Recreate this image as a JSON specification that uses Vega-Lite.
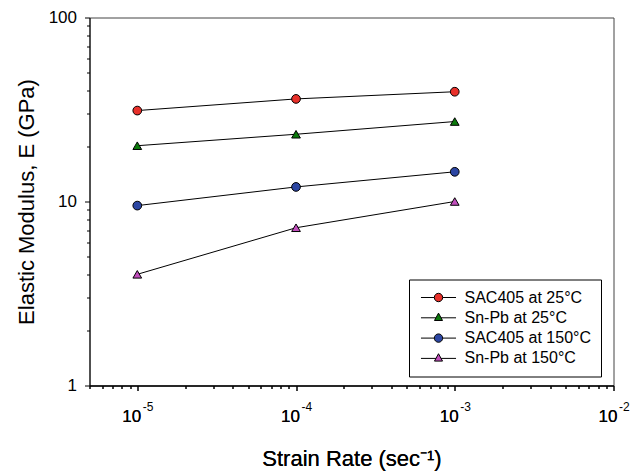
{
  "$schema": "https://vega.github.io/schema/vega-lite/v6.json",
  "width": 524,
  "height": 368,
  "autosize": "none",
  "padding": {"left": 89.5, "top": 17.5, "right": 20.5, "bottom": 85.5},
  "background": "white",
  "config": {
    "font": "Liberation Sans",
    "view": {"stroke": "#444", "strokeWidth": 1}
  },
  "data": {
    "values": [
      {"series": "SAC405 at 25°C", "rate": 0.00001, "E": 31.2},
      {"series": "SAC405 at 25°C", "rate": 0.0001, "E": 36.1},
      {"series": "SAC405 at 25°C", "rate": 0.001, "E": 39.5},
      {"series": "Sn-Pb at 25°C", "rate": 0.00001, "E": 20.1},
      {"series": "Sn-Pb at 25°C", "rate": 0.0001, "E": 23.2},
      {"series": "Sn-Pb at 25°C", "rate": 0.001, "E": 27.2},
      {"series": "SAC405 at 150°C", "rate": 0.00001, "E": 9.5},
      {"series": "SAC405 at 150°C", "rate": 0.0001, "E": 12.0},
      {"series": "SAC405 at 150°C", "rate": 0.001, "E": 14.5},
      {"series": "Sn-Pb at 150°C", "rate": 0.00001, "E": 4.02},
      {"series": "Sn-Pb at 150°C", "rate": 0.0001, "E": 7.2},
      {"series": "Sn-Pb at 150°C", "rate": 0.001, "E": 10.0}
    ]
  },
  "encoding": {
    "x": {
      "field": "rate", "type": "quantitative",
      "scale": {"type": "log", "domain": [0.000005, 0.01], "nice": false},
      "axis": {
        "orient": "bottom",
        "title": "Strain Rate (sec⁻¹)",
        "titleFontSize": 22, "titleFontWeight": "normal", "titleColor": "black",
        "titlePadding": 24,
        "values": [0.000005, 0.000006, 0.000007, 0.000008, 0.000009,
                   0.00001, 0.00002, 0.00003, 0.00004, 0.00005, 0.00006, 0.00007, 0.00008, 0.00009,
                   0.0001, 0.0002, 0.0003, 0.0004, 0.0005, 0.0006, 0.0007, 0.0008, 0.0009,
                   0.001, 0.002, 0.003, 0.004, 0.005, 0.006, 0.007, 0.008, 0.009, 0.01],
        "labelExpr": "abs(log(datum.value)/LN10 - round(log(datum.value)/LN10)) < 0.001 ? '10' : ''",
        "labelFontSize": 17, "labelColor": "black", "labelPadding": 18, "labelOffset": -6,
        "labelFlush": false, "labelOverlap": false,
        "tickSize": {"condition": {"test": "abs(log(datum.value)/LN10 - round(log(datum.value)/LN10)) < 0.001", "value": 5}, "value": 3},
        "tickColor": "black", "domainColor": "black", "grid": false
      }
    },
    "y": {
      "field": "E", "type": "quantitative",
      "scale": {"type": "log", "domain": [1, 100], "nice": false},
      "axis": {
        "title": "Elastic Modulus, E (GPa)",
        "titleFontSize": 22, "titleFontWeight": "normal", "titleColor": "black",
        "titlePadding": 10,
        "values": [1, 2, 3, 4, 5, 6, 7, 8, 9, 10, 20, 30, 40, 50, 60, 70, 80, 90, 100],
        "labelExpr": "datum.value == 1 || datum.value == 10 || datum.value == 100 ? datum.label : ''",
        "labelFontSize": 17, "labelColor": "black", "labelPadding": 8,
        "labelFlush": false, "labelOverlap": false,
        "tickSize": {"condition": {"test": "datum.value == 1 || datum.value == 10 || datum.value == 100", "value": 5}, "value": 3},
        "tickColor": "black", "domainColor": "black", "grid": false
      }
    }
  },
  "layer": [
    {
      "mark": {"type": "line", "color": "black", "strokeWidth": 1},
      "encoding": {"detail": {"field": "series"}}
    },
    {
      "mark": {"type": "point", "filled": true, "size": 76, "stroke": "black", "strokeWidth": 1, "opacity": 1},
      "encoding": {
        "x": {
          "field": "rate", "type": "quantitative",
          "scale": {"type": "log", "domain": [0.000005, 0.01], "nice": false},
          "axis": {
            "orient": "bottom", "title": null, "domain": false, "ticks": false, "grid": false,
            "values": [0.00001, 0.0001, 0.001, 0.01],
            "labelExpr": "round(log(datum.value)/LN10) == -5 ? '-5' : round(log(datum.value)/LN10) == -4 ? '-4' : round(log(datum.value)/LN10) == -3 ? '-3' : '-2'",
            "labelFontSize": 12, "labelColor": "black", "labelPadding": 16,
            "labelAlign": "left", "labelOffset": 5,
            "labelFlush": false, "labelOverlap": false
          }
        },
        "shape": {
          "field": "series", "type": "nominal", "legend": null,
          "scale": {"domain": ["SAC405 at 25°C", "Sn-Pb at 25°C", "SAC405 at 150°C", "Sn-Pb at 150°C"],
                    "range": ["circle", "triangle-up", "circle", "triangle-up"]}
        },
        "fill": {
          "field": "series", "type": "nominal", "legend": null,
          "scale": {"domain": ["SAC405 at 25°C", "Sn-Pb at 25°C", "SAC405 at 150°C", "Sn-Pb at 150°C"],
                    "range": ["#e8302a", "#0b7a0b", "#2c46a3", "#c04dbb"]}
        }
      }
    },
    {
      "mark": {"type": "point", "filled": true, "opacity": 0, "stroke": "black", "strokeWidth": 1},
      "encoding": {
        "shape": {
          "field": "series", "type": "nominal",
          "scale": {"domain": ["SAC405 at 25°C", "Sn-Pb at 25°C", "SAC405 at 150°C", "Sn-Pb at 150°C"],
                    "range": [
                      "M-2.92,0L-0.7,0M0.7,0L2.92,0M-0.7,0A0.7,0.7,0,1,0,0.7,0A0.7,0.7,0,1,0,-0.7,0Z",
                      "M-2.92,0L-0.42,0M0.42,0L2.92,0M-0.67,0.45L0,-0.78L0.67,0.45Z",
                      "M-2.92,0L-0.7,0M0.7,0L2.92,0M-0.7,0A0.7,0.7,0,1,0,0.7,0A0.7,0.7,0,1,0,-0.7,0Z",
                      "M-2.92,0L-0.42,0M0.42,0L2.92,0M-0.67,0.45L0,-0.78L0.67,0.45Z"
                    ]},
          "legend": {
            "title": null, "orient": "none", "legendX": 319.5, "legendY": 262,
            "padding": 10, "strokeColor": "black", "fillColor": "white",
            "symbolSize": 144, "symbolOffset": 11.5, "symbolOpacity": 1, "symbolStrokeColor": "black", "symbolStrokeWidth": 1,
            "labelFontSize": 16, "labelColor": "black", "labelOffset": 18,
            "labelExpr": "datum.label + '\u00a0\u00a0'",
            "rowPadding": 4.3, "labelLimit": 300,
            "encode": {"symbols": {"update": {"stroke": {"value": "black"}, "strokeWidth": {"value": 1}, "opacity": {"value": 1}}}}
          }
        },
        "fill": {
          "field": "series", "type": "nominal",
          "scale": {"domain": ["SAC405 at 25°C", "Sn-Pb at 25°C", "SAC405 at 150°C", "Sn-Pb at 150°C"],
                    "range": ["#e8302a", "#0b7a0b", "#2c46a3", "#c04dbb"]},
          "legend": {
            "title": null, "orient": "none", "legendX": 319.5, "legendY": 262,
            "padding": 10, "strokeColor": "black", "fillColor": "white",
            "symbolSize": 144, "symbolOffset": 11.5, "symbolOpacity": 1, "symbolStrokeColor": "black", "symbolStrokeWidth": 1,
            "labelFontSize": 16, "labelColor": "black", "labelOffset": 18,
            "labelExpr": "datum.label + '\u00a0\u00a0'",
            "rowPadding": 4.3, "labelLimit": 300,
            "encode": {"symbols": {"update": {"stroke": {"value": "black"}, "strokeWidth": {"value": 1}, "opacity": {"value": 1}}}}
          }
        }
      }
    }
  ],
  "resolve": {"scale": {"shape": "independent", "fill": "independent"}, "axis": {"x": "independent"}}
}
